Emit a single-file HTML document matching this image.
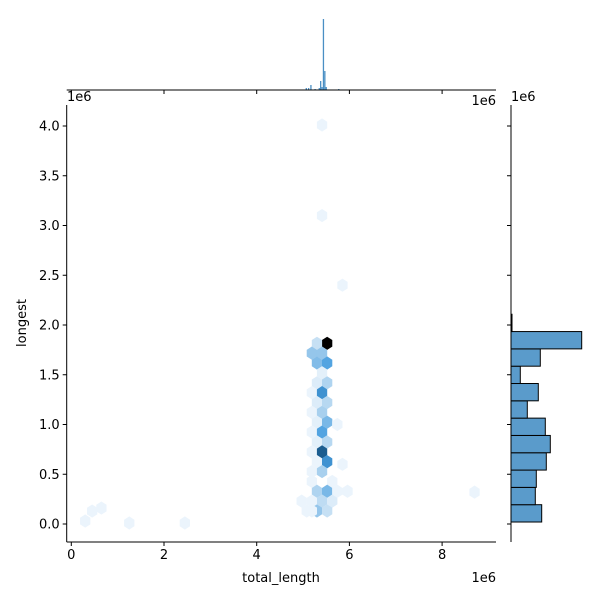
<!DOCTYPE html>
<html><head><meta charset="utf-8"><style>
body{margin:0;background:#fff}
svg text{font-family:"DejaVu Sans","Liberation Sans",sans-serif;font-size:13px;fill:#000}
</style></head><body>
<svg id="chart" width="600" height="600" viewBox="0 0 600 600" xmlns="http://www.w3.org/2000/svg">
<rect width="600" height="600" fill="#fff"/>
<g id="hexes"></g>
<g id="topHist"></g>
<g id="rightHist"></g>
<g id="axes"></g>
</svg>
<script>
// ---- data ----
const xTicks = [0, 2, 4, 6, 8];
const yTicks = [0.0, 0.5, 1.0, 1.5, 2.0, 2.5, 3.0, 3.5, 4.0];
const yTickLabels = ["0.0","0.5","1.0","1.5","2.0","2.5","3.0","3.5","4.0"];
// hexbin cells: x (1e6), y (1e6), count
const hexX = [5.52,5.30,5.19,5.41,5.30,5.52,5.41,5.30,5.52,5.19,5.41,5.30,5.52,5.19,5.41,5.30,5.52,5.19,5.41,5.30,5.52,5.19,5.41,5.30,5.52,5.19,5.41,5.19,5.63,5.30,5.52,5.74,5.96,5.41,5.63,5.19,4.97,5.08,5.30,5.52,5.19,5.41,5.41,5.85,0.45,0.65,0.30,1.25,2.45,8.70,5.85,5.74];
const hexY = [1.816,1.816,1.717,1.717,1.618,1.618,1.519,1.419,1.419,1.320,1.320,1.221,1.221,1.122,1.122,1.023,1.023,0.924,0.924,0.824,0.824,0.725,0.725,0.626,0.626,0.527,0.527,0.428,0.428,0.329,0.329,0.329,0.329,0.230,0.230,0.230,0.230,0.131,0.131,0.131,0.131,4.01,3.10,0.60,0.13,0.16,0.03,0.01,0.01,0.32,2.40,1.00];
const hexC = [40,6,12,12,14,19,2,3,9,1,23,3,8,1,10,2,15,1,19,2,8,1,33,1,23,1,10,1,1,9,15,1,1,7,3,1,1,1,12,6,1,1,1,1,1,1,1,1,1,1,1,1];
// top marginal (total_length, 1e6) bins and counts
const topBinX = [5.07,5.12,5.17,5.26,5.35,5.38,5.41,5.44,5.47,5.50,5.77];
const topCount = [2,2,5,1,2,9,3,71,19,3,1];
// right marginal (longest, 1e6) bins and counts
const rightBinStart = [0.02,0.194,0.368,0.542,0.716,0.89,1.064,1.238,1.412,1.586,1.76,1.934];
const rightCount = [30.7,24.3,25.3,35.3,39.3,34.3,16.3,27.3,9.3,29.3,70.7,1];
// ---- scales ----
const X0=66.7,X1=496,Y0=105,Y1=542;
const xs=v=>71.3+v*46.35;
const ys=v=>524-v*99.5;
const NS="http://www.w3.org/2000/svg";
function mk(tag,attrs,parent){const e=document.createElementNS(NS,tag);for(const k in attrs)e.setAttribute(k,attrs[k]);parent.appendChild(e);return e;}
function lerp(a,b,t){return a+(b-a)*t;}
const stops=[[0,[242,248,253]],[0.25,[168,208,238]],[0.5,[74,159,224]],[0.8,[31,106,165]],[1,[0,0,0]]];
function color(c){const t=Math.min(1,c/40);for(let i=1;i<stops.length;i++){if(t<=stops[i][0]){const a=stops[i-1],b=stops[i];const u=(t-a[0])/(b[0]-a[0]);return "rgb("+a[1].map((v,j)=>Math.round(lerp(v,b[1][j],u))).join(",")+")";}}return "#000";}
// hexes
const hg=document.getElementById('hexes');
const hw=5.15,R=6.6;
for(let i=0;i<hexX.length;i++){
  const cx=xs(hexX[i]),cy=ys(hexY[i]);
  const pts=[[cx,cy-R],[cx+hw,cy-R/2],[cx+hw,cy+R/2],[cx,cy+R],[cx-hw,cy+R/2],[cx-hw,cy-R/2]].map(p=>p.join(",")).join(" ");
  const p=mk('polygon',{points:pts,fill:color(hexC[i])},hg);
  
  
}
// top hist
const tg=document.getElementById('topHist');
for(let i=0;i<topBinX.length;i++){
  const x=xs(topBinX[i]);
  const r=mk('rect',{x:x-0.65,y:90-topCount[i],width:1.3,height:topCount[i],fill:"#4a8fc4"},tg);
  
  
}
// right hist
const rg=document.getElementById('rightHist');
const bw=0.174;
for(let i=0;i<rightBinStart.length;i++){
  const y1=ys(rightBinStart[i]),y2=ys(rightBinStart[i]+bw);
  const r=mk('rect',{x:511,y:y2,width:rightCount[i],height:y1-y2,fill:"#5a9bcb",stroke:"#000","stroke-width":1},rg);
  
  
}
// axes
const ag=document.getElementById('axes');
mk('line',{x1:X0,y1:Y0,x2:X0,y2:Y1,stroke:"#000","stroke-width":1},ag);
mk('line',{x1:X0,y1:Y1,x2:X1,y2:Y1,stroke:"#000","stroke-width":1},ag);
mk('line',{x1:X0,y1:90,x2:X1,y2:90,stroke:"#000","stroke-width":1},ag);
mk('line',{x1:511,y1:Y0,x2:511,y2:Y1,stroke:"#000","stroke-width":1},ag);
xTicks.forEach(v=>{
  const x=xs(v);
  mk('line',{x1:x,y1:Y1,x2:x,y2:Y1+4,stroke:"#000"},ag);
  mk('line',{x1:x,y1:90,x2:x,y2:94,stroke:"#000"},ag);
  const t=mk('text',{x:x,y:Y1+17,"text-anchor":"middle"},ag);t.textContent=v;
  
  
});
yTicks.forEach((v,i)=>{
  const y=ys(v);
  mk('line',{x1:X0-4,y1:y,x2:X0,y2:y,stroke:"#000"},ag);
  mk('line',{x1:507,y1:y,x2:511,y2:y,stroke:"#000"},ag);
  const t=mk('text',{x:X0-7,y:y+4.5,"text-anchor":"end"},ag);t.textContent=yTickLabels[i];
  
  
});
function txt(s,attrs,name){const t=mk('text',attrs,ag);t.textContent=s;return t;}
txt("total_length",{x:281,y:582,"text-anchor":"middle"},"x-axis-title");
txt("longest",{x:26,y:323,"text-anchor":"middle",transform:"rotate(-90 26 323)"},"y-axis-title");
txt("1e6",{x:496,y:582,"text-anchor":"end"},"x-offset-text");
txt("1e6",{x:67,y:101},"y-offset-text");
txt("1e6",{x:496,y:105,"text-anchor":"end"},"top-offset-text");
txt("1e6",{x:511,y:101},"right-offset-text");
</script>
</body></html>
